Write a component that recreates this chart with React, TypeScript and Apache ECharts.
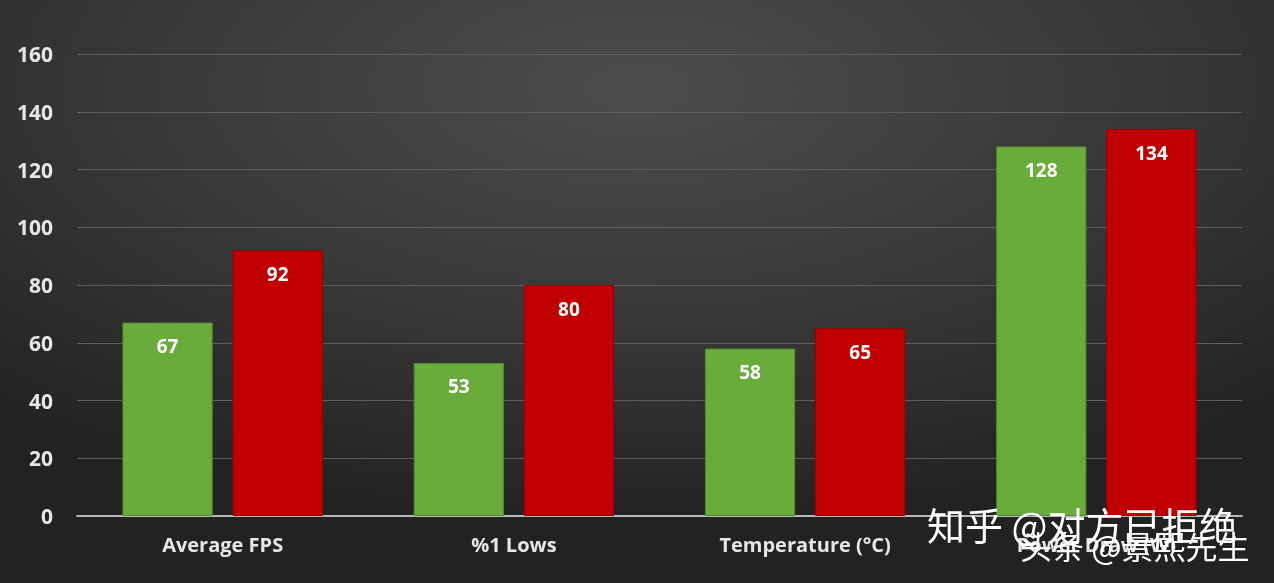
import React, { useEffect, useRef } from "react";
import * as echarts from "echarts";

const categories = ["Average FPS", "%1 Lows", "Temperature (°C)", "Power Draw (W)"];
const greenValues = [67, 53, 58, 128];
const redValues = [92, 80, 65, 134];
const yTicks = [0, 20, 40, 60, 80, 100, 120, 140, 160];

export default function App() {
  const ref = useRef<HTMLDivElement>(null);
  useEffect(() => {
    if (!ref.current) return;
    const chart = echarts.init(ref.current, undefined, { renderer: "svg" });
    const labelStyle = {
      show: true,
      position: "insideTop",
      distance: 14,
      color: "#ffffff",
      fontFamily: "Open Sans",
      fontWeight: "bold",
      fontSize: 19,
    };
    const wmShadow = {
      fill: "#ffffff",
      shadowColor: "rgba(0,0,0,0.85)",
      shadowBlur: 3,
      shadowOffsetX: 1,
      shadowOffsetY: 1,
    };
    chart.setOption({
      animation: false,
      backgroundColor: {
        type: "radial",
        x: 0.5,
        y: 0.15,
        r: 0.75,
        colorStops: [
          { offset: 0, color: "#4c4c4c" },
          { offset: 0.55, color: "#373737" },
          { offset: 1, color: "#222222" },
        ],
      },
      grid: { left: 77, right: 32, top: 54, bottom: 67 },
      xAxis: {
        type: "category",
        data: categories,
        axisTick: { show: false },
        axisLine: { lineStyle: { color: "#b8b8b8", width: 2 } },
        axisLabel: {
          color: "#e6e6e6",
          fontFamily: "Open Sans",
          fontWeight: "bold",
          fontSize: 20,
          margin: 18,
        },
      },
      yAxis: {
        type: "value",
        min: yTicks[0],
        max: yTicks[yTicks.length - 1],
        interval: 20,
        axisLine: { show: false },
        axisTick: { show: false },
        splitLine: { lineStyle: { color: "#5e5e5e", width: 1 } },
        axisLabel: {
          color: "#e6e6e6",
          fontFamily: "Open Sans",
          fontWeight: "bold",
          fontSize: 21,
          margin: 24,
        },
      },
      series: [
        {
          type: "bar",
          data: greenValues,
          barWidth: "31%",
          barGap: "22%",
          itemStyle: { color: "#6aac3c", borderColor: "#4f8a2a", borderWidth: 1 },
          label: labelStyle,
        },
        {
          type: "bar",
          data: redValues,
          barWidth: "31%",
          itemStyle: { color: "#c00000", borderColor: "#9a0000", borderWidth: 1 },
          label: labelStyle,
        },
      ],
      graphic: [
        {
          type: "text",
          left: 927,
          top: 504,
          z: 100,
          style: {
            ...wmShadow,
            text: "知乎 @对方已拒绝",
            font: "38px 'Noto Sans CJK SC'",
          },
        },
        {
          type: "text",
          left: 1020,
          top: 529,
          z: 100,
          style: {
            ...wmShadow,
            text: "头条 @景熙先生",
            font: "32px 'Noto Sans CJK SC'",
          },
        },
      ],
    });
    return () => chart.dispose();
  }, []);
  return (
    <div
      ref={ref}
      style={{ position: "fixed", left: 0, top: 0, width: 1274, height: 583 }}
    />
  );
}
